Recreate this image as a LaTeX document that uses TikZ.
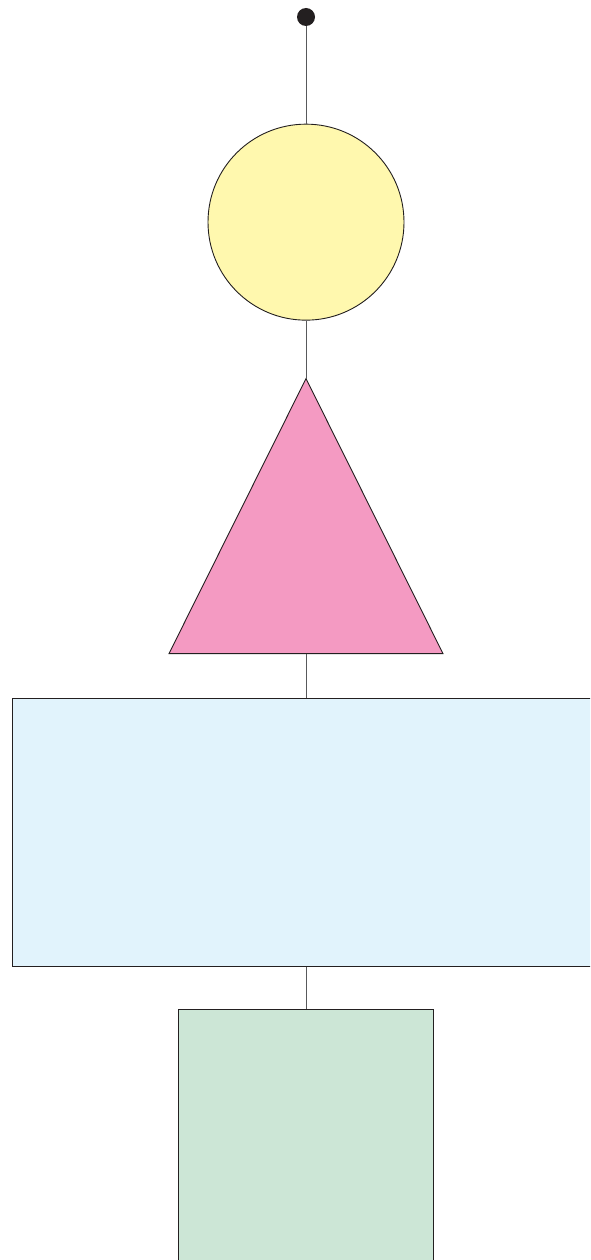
\documentclass[tikz,border=0pt]{standalone}
\usetikzlibrary{positioning}
\definecolor{inkdark}{HTML}{231F20}
\definecolor{linkgray}{HTML}{58595B}
\definecolor{sunyellow}{HTML}{FFF8AE}
\definecolor{rosepink}{HTML}{F49AC2}
\definecolor{skyblue}{HTML}{E1F3FC}
\definecolor{mintgreen}{HTML}{CCE6D6}

\begin{document}
\begin{tikzpicture}[
    x=1pt, y=-1pt,
    outlined/.style={draw=inkdark, line width=0.9pt, inner sep=0pt},
    link/.style={draw=linkgray, line width=0.9pt}
]
    \useasboundingbox (0,0) rectangle (590,1260);
    \clip (0,0) rectangle (590,1260);

    % --- shapes, top to bottom ---
    \node [circle, fill=inkdark, minimum size=18pt, inner sep=0pt] (dot) at (306,17) {};
    \node [outlined, circle, fill=sunyellow, minimum size=196pt, below=97.5pt of dot] (sun) {};

    \coordinate [below=58pt of sun] (tri-top);
    \coordinate [below=275pt of tri-top] (tri-base);
    \coordinate [xshift=-137pt] (tri-left) at (tri-base);
    \coordinate [xshift=137pt] (tri-right) at (tri-base);
    \draw [outlined, fill=rosepink] (tri-top) -- (tri-left) -- (tri-right) -- cycle;

    \node [outlined, rectangle, fill=skyblue, minimum width=588pt, minimum height=268pt, below=44.5pt of tri-base] (panel) {};
    \node [outlined, rectangle, fill=mintgreen, minimum width=255pt, minimum height=280pt, below=41.5pt of panel] (block) {};

    % --- connections ---
    \path [link] (dot) -- (sun);
    \path [link] (sun) -- (tri-top);
    \path [link] (tri-base) -- (panel);
    \path [link] (panel) -- (block);

\end{tikzpicture}
\end{document}
